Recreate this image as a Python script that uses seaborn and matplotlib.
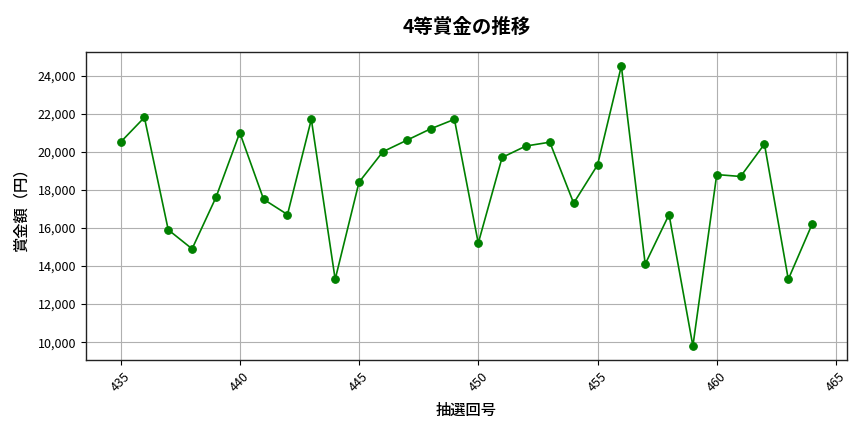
import matplotlib
matplotlib.use("Agg")
import matplotlib.pyplot as plt
import matplotlib.ticker as mticker
import seaborn as sns
import pandas as pd

draws = list(range(435, 465))
prizes = [20500, 21800, 15900, 14900, 17600, 21000, 17500, 16700, 21700, 13300,
          18400, 20000, 20600, 21200, 21700, 15200, 19700, 20300, 20500, 17300,
          19300, 24500, 14100, 16700, 9800, 18800, 18700, 20400, 13300, 16200]

title = "4等賞金の推移"
xlabel = "抽選回号"
ylabel = "賞金額（円）"

sns.set_style("ticks")
plt.rcParams['font.family'] = ['Noto Sans CJK JP', 'DejaVu Sans']
plt.rcParams['text.color'] = 'black'
plt.rcParams['axes.labelcolor'] = 'black'
plt.rcParams['xtick.color'] = 'black'
plt.rcParams['ytick.color'] = 'black'

df = pd.DataFrame({"draw": draws, "prize": prizes})

fig, ax = plt.subplots(figsize=(8.64, 4.32), dpi=100)
sns.lineplot(data=df, x="draw", y="prize", marker="o", color="green",
             markersize=5.5, markeredgecolor="green", linewidth=1.2, ax=ax)
ax.grid(True, color="#b0b0b0", linewidth=0.8)
ax.set_title(title, fontsize=14, fontweight="bold", pad=14)
ax.set_xlabel(xlabel, fontsize=11, fontweight="medium", labelpad=6)
ax.set_ylabel(ylabel, fontsize=11, fontweight="medium", labelpad=6)
ax.yaxis.set_major_formatter(mticker.FuncFormatter(lambda v, p: f"{int(v):,}"))
ax.xaxis.set_major_locator(mticker.MultipleLocator(5))
ax.tick_params(axis="both", labelsize=9)
plt.setp(ax.get_xticklabels(), rotation=45)
for s in ax.spines.values():
    s.set_color("#222222")
    s.set_linewidth(1.0)
fig.subplots_adjust(left=0.0995, right=0.980, bottom=0.1667, top=0.8796)
fig.savefig("out.png", dpi=100)
